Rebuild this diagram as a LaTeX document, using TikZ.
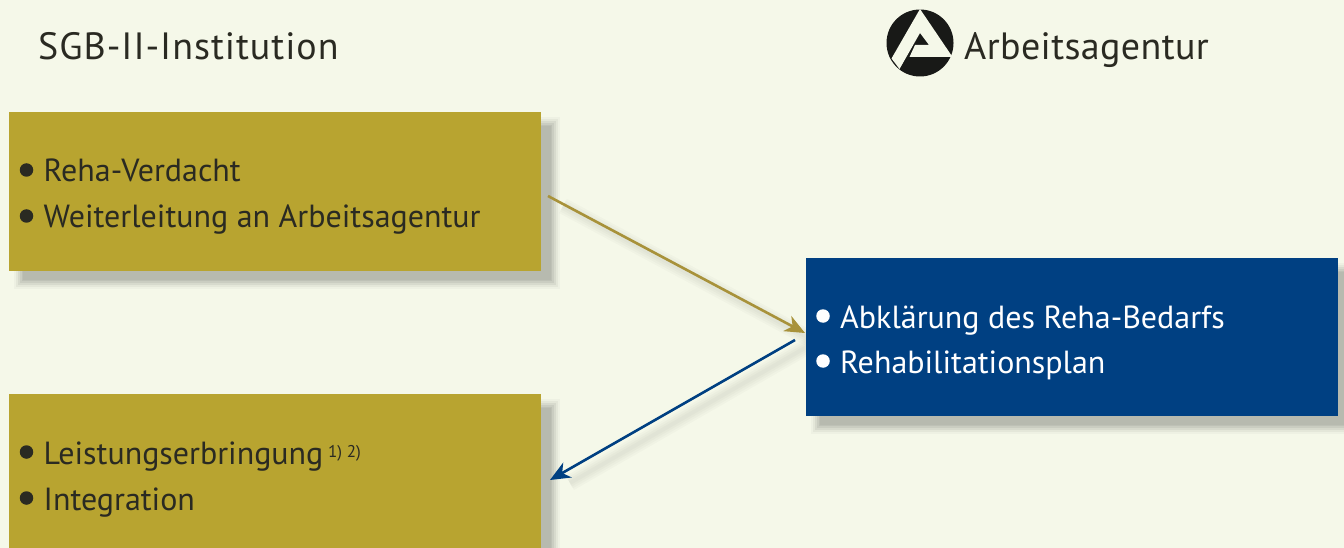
\documentclass[tikz,border=0pt]{standalone}
\usepackage{fontspec}
\setmainfont{PT Sans}
\newfontfamily\headfonta[LetterSpace=2.6]{PT Sans}
\newfontfamily\headfontb[LetterSpace=1]{PT Sans}
\usetikzlibrary{arrows.meta}
\definecolor{bg}{HTML}{F5F8E9}
\definecolor{gold}{HTML}{B8A430}
\definecolor{navy}{HTML}{004082}
\definecolor{ink}{HTML}{2A2A22}
\definecolor{goldline}{HTML}{A8923A}
\definecolor{shadowgrey}{HTML}{B7BAAF}
\tikzset{
  x=1bp,y=-1bp,
  box/.style={draw=none,inner sep=0pt,anchor=north west,minimum width=532bp,minimum height=#1},
  head/.style={anchor=base west,inner sep=0pt,text=ink,font=\fontsize{38bp}{40bp}\selectfont},
  item/.style={anchor=base west,inner sep=0pt,font=\fontsize{32bp}{36bp}\selectfont},
  dot/.style={circle,inner sep=0pt,minimum size=13.5bp},
  conn/.style={line width=2.6bp,-{Stealth[length=20bp,width=17bp,inset=6bp]}},
}
\newcommand{\softshadow}[4]{%
  \foreach \g/\op in {9/.10,7/.18,5/.28,3/.40,1/.60,0/1}{%
    \fill[shadowgrey,opacity=\op] (#1-\g,#2-\g) rectangle (#3+\g,#4+\g);}}
\newcommand{\softline}[4]{%
  \foreach \g in {16,12,8,4}{%
    \draw[black!55!bg,opacity=.035,line width=\g bp] (#1,#2) -- (#3,#4);}}
\begin{document}
\begin{tikzpicture}
\useasboundingbox (0,0) rectangle (1344,548);
\clip (0,0) rectangle (1344,548);
\fill[bg] (0,0) rectangle (1344,548);
% shadows
\softshadow{23}{126}{551}{280}
\softshadow{23}{408}{551}{570}
\softshadow{820}{272}{1348}{425}
\softline{563}{206}{818}{343}
\softline{810}{345}{570}{483}
% boxes
\node[box=159bp,fill=gold] (sgbtop) at (9,112) {};
\node[box=170bp,fill=gold] (sgbbot) at (9,394) {};
\node[box=158bp,fill=navy] (ba) at (806,258) {};
% headings
\node[head,font=\headfonta\fontsize{38bp}{40bp}\selectfont] (sgb) at (38,60) {SGB-II-Institution};
\node[head,font=\headfontb\fontsize{38bp}{40bp}\selectfont] (aa) at (964,60) {Arbeitsagentur};
% logo
\fill[black!90!bg] (920,43) circle (33.5);
\fill[bg] (920,9) -- (952.5,57) -- (909.5,57) -- (915,45) -- (929,45) -- (920,33) -- (899.5,69) -- (891.5,58.5) -- cycle;
% texts
\node[dot,fill=ink] (d1) at (26.5,170) {};
\node[item,text=ink] (t1) at (43.5,182) {Reha-Verdacht};
\node[dot,fill=ink] (d2) at (26.5,216) {};
\node[item,text=ink] (t2) at (43.5,228) {Weiterleitung an Arbeitsagentur};
\node[dot,fill=white] (d3) at (823,316) {};
\node[item,text=white] (t3) at (840,328) {Abklärung des Reha-Bedarfs};
\node[dot,fill=white] (d4) at (823,361) {};
\node[item,text=white] (t4) at (840,373) {Rehabilitationsplan};
\node[dot,fill=ink] (d5) at (26.5,452) {};
\node[item,text=ink] (t5) at (43.5,464) {Leistungserbringung};
\node[anchor=base west,inner sep=0pt,text=ink,font=\fontsize{17bp}{18bp}\selectfont] (t5s) at (328,457) {1) 2)};
\node[dot,fill=ink] (d6) at (26.5,498) {};
\node[item,text=ink] (t6) at (43.5,510) {Integration};
% connectors
\coordinate (a1) at (548,196);
\coordinate (a2) at (805,333);
\coordinate (b1) at (795,340);
\coordinate (b2) at (550,480);
\draw[conn,draw=goldline,fill=goldline] (a1) -- (a2);
\draw[conn,draw=navy,fill=navy] (b1) -- (b2);
\end{tikzpicture}
\end{document}
